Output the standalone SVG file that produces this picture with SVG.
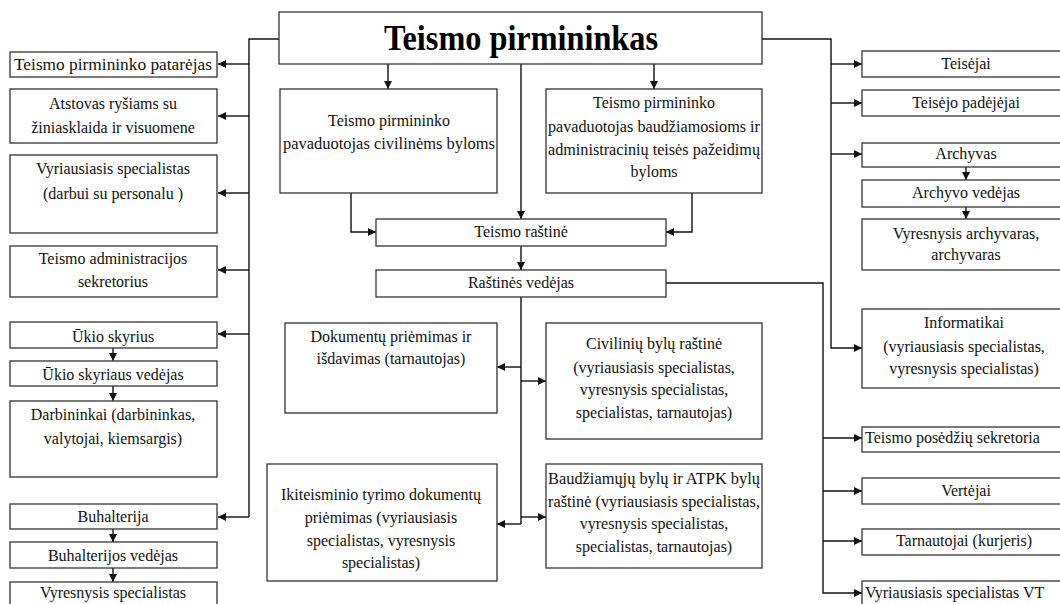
<svg xmlns="http://www.w3.org/2000/svg" width="1060" height="604" viewBox="0 0 1060 604" font-family="Liberation Serif, DejaVu Serif, serif">
<style>
.box{fill:#fff;stroke:#333;stroke-width:1.3}
.t{font-size:16px;fill:#111;text-anchor:middle}
.l{text-anchor:start}
.c{fill:none;stroke:#111;stroke-width:1.4}
.title{font-size:36px;font-weight:bold;fill:#000;text-anchor:middle}
</style>
<defs>
<marker id="a" markerUnits="userSpaceOnUse" markerWidth="8" markerHeight="8" refX="8" refY="4" orient="auto">
<path d="M0,0 L8,4 L0,8 z" fill="#111"/>
</marker>
</defs>
<rect width="1060" height="604" fill="#fff"/>
<g id="connectors">
<path class="c" d="M279,39 H249 V517"/>
<path class="c" d="M249,64 H218" marker-end="url(#a)"/>
<path class="c" d="M249,116 H218" marker-end="url(#a)"/>
<path class="c" d="M249,193 H218" marker-end="url(#a)"/>
<path class="c" d="M249,270 H218" marker-end="url(#a)"/>
<path class="c" d="M249,334 H218" marker-end="url(#a)"/>
<path class="c" d="M249,517 H218" marker-end="url(#a)"/>
<path class="c" d="M113,348 V361" marker-end="url(#a)"/>
<path class="c" d="M113,386 V401" marker-end="url(#a)"/>
<path class="c" d="M113,529 V542" marker-end="url(#a)"/>
<path class="c" d="M113,568 V582" marker-end="url(#a)"/>
<path class="c" d="M388,64 V89" marker-end="url(#a)"/>
<path class="c" d="M654,64 V89" marker-end="url(#a)"/>
<path class="c" d="M521,64 V219" marker-end="url(#a)"/>
<path class="c" d="M351,193 V232 H376" marker-end="url(#a)"/>
<path class="c" d="M692,193 V232 H666" marker-end="url(#a)"/>
<path class="c" d="M521,246 V270" marker-end="url(#a)"/>
<path class="c" d="M521,297 V524"/>
<path class="c" d="M521,367 H497" marker-end="url(#a)"/>
<path class="c" d="M521,381 H546" marker-end="url(#a)"/>
<path class="c" d="M521,524 H497" marker-end="url(#a)"/>
<path class="c" d="M521,517 H546" marker-end="url(#a)"/>
<path class="c" d="M762,39 H831 V348 H862" marker-end="url(#a)"/>
<path class="c" d="M831,64 H862" marker-end="url(#a)"/>
<path class="c" d="M831,103 H862" marker-end="url(#a)"/>
<path class="c" d="M831,154 H862" marker-end="url(#a)"/>
<path class="c" d="M966,167 V180" marker-end="url(#a)"/>
<path class="c" d="M966,207 V219" marker-end="url(#a)"/>
<path class="c" d="M666,283 H823 V593 H862" marker-end="url(#a)"/>
<path class="c" d="M823,438 H862" marker-end="url(#a)"/>
<path class="c" d="M823,491 H862" marker-end="url(#a)"/>
<path class="c" d="M823,541 H862" marker-end="url(#a)"/>
</g>
<g id="n-top"><rect class="box" x="279" y="12" width="483" height="52"/><text class="title" x="521" y="50" textLength="274" lengthAdjust="spacingAndGlyphs">Teismo pirmininkas</text></g>
<g id="n-patarejas"><rect class="box" x="10" y="52" width="207" height="25"/><text class="t" x="113" y="70" textLength="198" lengthAdjust="spacingAndGlyphs">Teismo pirmininko patarėjas</text></g>
<g id="n-atstovas"><rect class="box" x="10" y="89" width="207" height="54"/><text class="t" x="113" y="109">Atstovas ryšiams su</text><text class="t" x="113" y="133">žiniasklaida ir visuomene</text></g>
<g id="n-personalas"><rect class="box" x="10" y="155" width="207" height="78"/><text class="t" x="113" y="174">Vyriausiasis specialistas</text><text class="t" x="113" y="199">(darbui su personalu )</text></g>
<g id="n-sekretorius"><rect class="box" x="10" y="246" width="207" height="51"/><text class="t" x="113" y="264">Teismo administracijos</text><text class="t" x="113" y="287">sekretorius</text></g>
<g id="n-ukio"><rect class="box" x="10" y="322" width="207" height="26"/><text class="t" x="113" y="342">Ūkio skyrius</text></g>
<g id="n-ukio-vedejas"><rect class="box" x="10" y="361" width="207" height="25"/><text class="t" x="113" y="380">Ūkio skyriaus vedėjas</text></g>
<g id="n-darbininkai"><rect class="box" x="10" y="401" width="207" height="76"/><text class="t" x="113" y="420">Darbininkai (darbininkas,</text><text class="t" x="113" y="444">valytojai, kiemsargis)</text></g>
<g id="n-buhalterija"><rect class="box" x="10" y="504" width="207" height="25"/><text class="t" x="113" y="522">Buhalterija</text></g>
<g id="n-buh-vedejas"><rect class="box" x="10" y="542" width="207" height="26"/><text class="t" x="113" y="561">Buhalterijos vedėjas</text></g>
<g id="n-vyr-spec"><rect class="box" x="10" y="582" width="207" height="30"/><text class="t" x="113" y="598">Vyresnysis specialistas</text></g>
<g id="n-civ-pav"><rect class="box" x="280" y="89" width="217" height="104"/><text class="t" x="389" y="126">Teismo pirmininko</text><text class="t" x="389" y="149" textLength="212" lengthAdjust="spacingAndGlyphs">pavaduotojas civilinėms byloms</text></g>
<g id="n-baud-pav"><rect class="box" x="546" y="89" width="216" height="104"/><text class="t" x="654" y="108">Teismo pirmininko</text><text class="t" x="654" y="132" textLength="212" lengthAdjust="spacingAndGlyphs">pavaduotojas baudžiamosioms ir</text><text class="t" x="654" y="155" textLength="212" lengthAdjust="spacingAndGlyphs">administracinių teisės pažeidimų</text><text class="t" x="654" y="177">byloms</text></g>
<g id="n-rastine"><rect class="box" x="376" y="219" width="290" height="27"/><text class="t" x="521" y="237">Teismo raštinė</text></g>
<g id="n-rast-vedejas"><rect class="box" x="376" y="270" width="290" height="27"/><text class="t" x="521" y="288">Raštinės vedėjas</text></g>
<g id="n-dokumentu"><rect class="box" x="285" y="323" width="212" height="90"/><text class="t" x="391" y="342">Dokumentų priėmimas ir</text><text class="t" x="391" y="364">išdavimas (tarnautojas)</text></g>
<g id="n-civ-rastine"><rect class="box" x="546" y="323" width="216" height="116"/><text class="t" x="654" y="349">Civilinių bylų raštinė</text><text class="t" x="654" y="373">(vyriausiasis specialistas,</text><text class="t" x="654" y="395">vyresnysis specialistas,</text><text class="t" x="654" y="418">specialistas, tarnautojas)</text></g>
<g id="n-ikiteisminio"><rect class="box" x="267" y="464" width="230" height="117"/><text class="t" x="381" y="500">Ikiteisminio tyrimo dokumentų</text><text class="t" x="381" y="523">priėmimas (vyriausiasis</text><text class="t" x="381" y="546">specialistas, vyresnysis</text><text class="t" x="381" y="568">specialistas)</text></g>
<g id="n-baud-rastine"><rect class="box" x="546" y="464" width="216" height="104"/><text class="t" x="654" y="484" textLength="212" lengthAdjust="spacingAndGlyphs">Baudžiamųjų bylų ir ATPK bylų</text><text class="t" x="654" y="507" textLength="212" lengthAdjust="spacingAndGlyphs">raštinė (vyriausiasis specialistas,</text><text class="t" x="654" y="529">vyresnysis specialistas,</text><text class="t" x="654" y="552">specialistas, tarnautojas)</text></g>
<g id="n-teisejai"><rect class="box" x="862" y="51" width="210" height="26"/><text class="t" x="966" y="69">Teisėjai</text></g>
<g id="n-padejejai"><rect class="box" x="862" y="90" width="210" height="26"/><text class="t" x="966" y="108">Teisėjo padėjėjai</text></g>
<g id="n-archyvas"><rect class="box" x="862" y="143" width="210" height="24"/><text class="t" x="966" y="159">Archyvas</text></g>
<g id="n-arch-vedejas"><rect class="box" x="862" y="180" width="210" height="27"/><text class="t" x="966" y="198">Archyvo vedėjas</text></g>
<g id="n-archyvarai"><rect class="box" x="862" y="219" width="210" height="51"/><text class="t" x="966" y="239">Vyresnysis archyvaras,</text><text class="t" x="966" y="260">archyvaras</text></g>
<g id="n-informatikai"><rect class="box" x="862" y="309" width="210" height="79"/><text class="t" x="964" y="328">Informatikai</text><text class="t" x="964" y="352">(vyriausiasis specialistas,</text><text class="t" x="964" y="374">vyresnysis specialistas)</text></g>
<g id="n-sekretoriai"><rect class="box" x="862" y="427" width="210" height="25"/><text class="t l" x="865" y="443">Teismo posėdžių sekretoria</text></g>
<g id="n-vertejai"><rect class="box" x="862" y="478" width="210" height="26"/><text class="t" x="966" y="496">Vertėjai</text></g>
<g id="n-tarnautojai"><rect class="box" x="862" y="529" width="210" height="26"/><text class="t" x="964" y="546">Tarnautojai (kurjeris)</text></g>
<g id="n-vt"><rect class="box" x="862" y="581" width="210" height="30"/><text class="t l" x="865" y="598">Vyriausiasis specialistas VT</text></g>
</svg>
